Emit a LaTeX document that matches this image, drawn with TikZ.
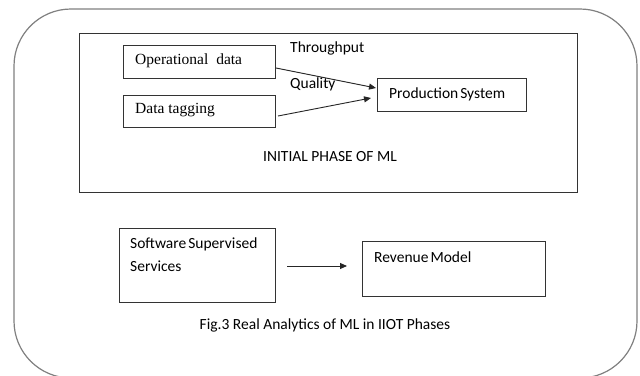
\documentclass[tikz,border=0pt]{standalone}
\usepackage{fontspec}
\setmainfont{Carlito}
\newfontfamily\serifface{Liberation Serif}
\usetikzlibrary{arrows.meta}
\begin{document}
\begin{tikzpicture}[x=1pt,y=-1pt,
  box/.style={draw=black!80,line width=0.9pt,inner sep=0pt},
  lbl/.style={font=\fontsize{15.5}{18}\selectfont,inner sep=0pt,anchor=west},
  slbl/.style={font=\serifface\fontsize{15.5}{18}\selectfont,inner sep=0pt,anchor=west},
  conn/.style={draw=black!85,line width=0.9pt,-{Triangle[length=7pt,width=6pt]}}]
\useasboundingbox (0,0) rectangle (640,375);
\fill[white] (0,0) rectangle (640,375);
% outer rounded frame, its lower edge runs past the page
\begin{scope}
\clip (0,0) rectangle (640,375);
\draw[black!50,line width=1.2pt,rounded corners=57pt] (14,9) rectangle (637,378);
\end{scope}
% initial phase frame
\draw[box] (79,33) rectangle (577,192);
\node[box,minimum width=152pt,minimum height=33pt,anchor=north west] (op) at (123,45) {};
\node[slbl] at (135,61) {Operational\hspace{4pt} data};
\node[box,minimum width=152pt,minimum height=32pt,anchor=north west] (tag) at (123,95) {};
\node[slbl] at (135,110) {Data tagging};
\node[box,minimum width=149pt,minimum height=33pt,anchor=north west] (prod) at (377,78) {};
\node[lbl] at (389,94) {Production\hspace{-1.5pt} System};
\coordinate (op1) at (276,68);
\coordinate (tag1) at (278,116);
\coordinate (p1) at (376,88);
\coordinate (p2) at (371,98);
\draw[conn] (op1) -- (p1);
\draw[conn] (tag1) -- (p2);
\node[lbl] (thr) at (290,48) {Throughput};
\node[lbl] (qual) at (290,84) {Quality};
\node[font=\fontsize{15.5}{18}\selectfont,inner sep=0pt] (init) at (330,157) {INITIAL PHASE OF ML};
% second phase
\node[box,minimum width=156pt,minimum height=74pt,anchor=north west] (soft) at (119,228) {};
\node[lbl] at (130,244) {Software\hspace{-1.5pt} Supervised};
\node[lbl] at (130,266) {Services};
\node[box,minimum width=183pt,minimum height=55pt,anchor=north west] (rev) at (362,241) {};
\node[lbl] at (374,257) {Revenue\hspace{-1.5pt} Model};
\coordinate (s1) at (287,266);
\coordinate (r1) at (347,266);
\draw[conn] (s1) -- (r1);
\node[font=\fontsize{15.5}{18}\selectfont,inner sep=0pt] (cap) at (325,325) {Fig.3 Real Analytics of ML in IIOT Phases};
\end{tikzpicture}
\end{document}
